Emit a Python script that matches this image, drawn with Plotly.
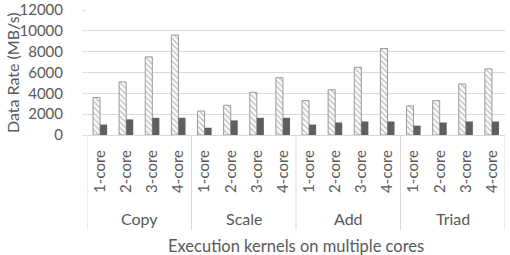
import plotly.graph_objects as go

kernels = ["Copy", "Scale", "Add", "Triad"]
cores = ["1-core", "2-core", "3-core", "4-core"]
hatched_vals = [3600, 5100, 7500, 9600,
                2300, 2850, 4100, 5500,
                3300, 4350, 6500, 8300,
                2800, 3300, 4900, 6350]
solid_vals = [1000, 1500, 1650, 1650,
              700, 1400, 1650, 1650,
              1000, 1200, 1300, 1300,
              900, 1200, 1300, 1300]
y_ticks = [0, 2000, 4000, 6000, 8000, 10000, 12000]

n = len(kernels) * len(cores)
xpos = list(range(n))
xlabels = [c for _ in kernels for c in cores]

FONT = "Lato"
TXT = "#595959"
GRID = "#d9d9d9"

fig = go.Figure()
fig.add_trace(go.Bar(
    x=xpos, y=hatched_vals,
    marker=dict(color="white", line=dict(color="#9a9a9a", width=1),
                pattern=dict(shape="\\", fgcolor="#8c8c8c", bgcolor="white", size=4, solidity=0.4)),
    showlegend=False,
))
fig.add_trace(go.Bar(
    x=xpos, y=solid_vals,
    marker=dict(color="#5f5f5f", line=dict(width=0)),
    showlegend=False,
))

# group dividers and labels
ncore = len(cores)
for g in range(len(kernels) + 1):
    xb = g * ncore - 0.5
    fig.add_shape(type="line", xref="x", yref="paper", x0=xb, x1=xb, y0=0, y1=-0.76,
                  line=dict(color=GRID, width=1), layer="below")
for g, k in enumerate(kernels):
    fig.add_annotation(x=g * ncore + (ncore - 1) / 2, xref="x", y=-0.665, yref="paper",
                       text=k, showarrow=False, yanchor="middle",
                       font=dict(size=16, family=FONT, color=TXT))
fig.add_annotation(x=0.5, xref="paper", y=-0.885, yref="paper",
                   text="Execution kernels on multiple cores", showarrow=False, yanchor="middle",
                   font=dict(size=16.5, family=FONT, color=TXT))
fig.add_annotation(x=(1 - 87) / 418, xref="paper", y=0.5, yref="paper", textangle=-90,
                   text="Data Rate (MB/s)", showarrow=False, xanchor="left",
                   font=dict(size=16, family=FONT, color=TXT))

fig.update_layout(
    width=510, height=255,
    margin=dict(l=87, r=5, t=10, b=120),
    paper_bgcolor="white", plot_bgcolor="white",
    barmode="group", bargap=0.46, bargroupgap=0,
    font=dict(family=FONT, color=TXT, size=14),
    xaxis=dict(range=[-0.5, n - 0.5], tickvals=xpos, ticktext=xlabels, tickangle=-90,
               showline=True, linecolor=GRID, showgrid=False, zeroline=False,
               ticklabelstandoff=8, automargin=False,
               tickfont=dict(size=15, family=FONT, color=TXT)),
    yaxis=dict(range=[0, 12000], tickvals=y_ticks, ticktext=[str(v) for v in y_ticks],
               showgrid=True, gridcolor=GRID, zeroline=False, automargin=False,
               ticks="outside", ticklen=3, tickcolor=GRID, ticklabelstandoff=17,
               ticklabeloverflow="allow",
               tickfont=dict(size=15, family=FONT, color=TXT)),
)
fig.write_html("out.html")
